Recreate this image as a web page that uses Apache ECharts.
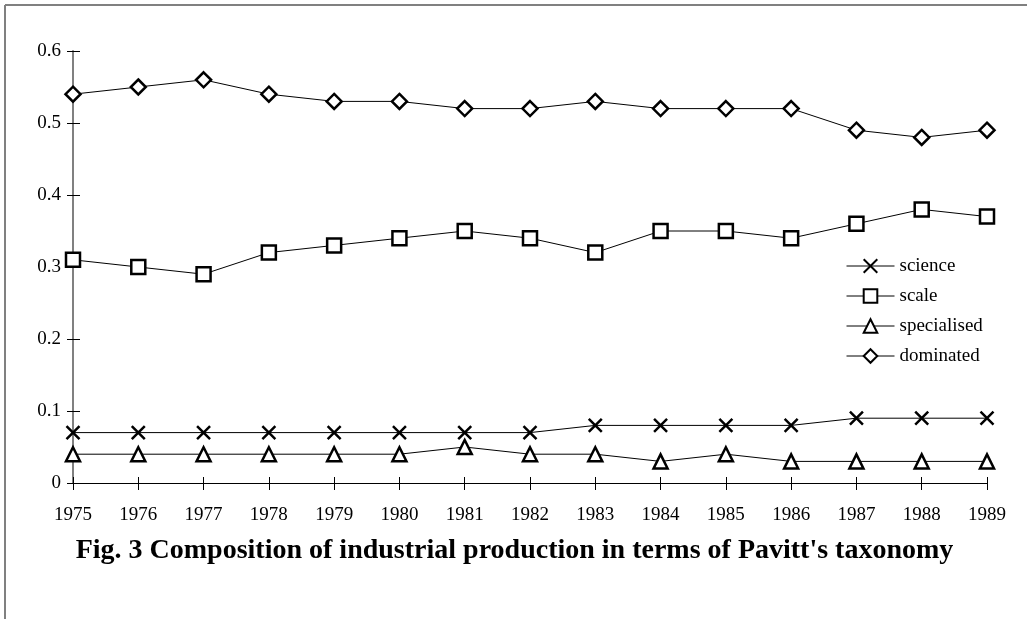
<!DOCTYPE html>
<html>
<head>
<meta charset="utf-8">
<script src="https://cdn.jsdelivr.net/npm/echarts@6/dist/echarts.min.js"></script>
<style>
  html, body { margin: 0; padding: 0; background: #fff; }
  #chart { width: 1029px; height: 619px; }
</style>
</head>
<body>
<div id="chart"></div>
<script>
// years on the x axis
const years = ['1975', '1976', '1977', '1978', '1979', '1980', '1981', '1982',
  '1983', '1984', '1985', '1986', '1987', '1988', '1989']

// shares per Pavitt category
const science = [0.07, 0.07, 0.07, 0.07, 0.07, 0.07, 0.07, 0.07, 0.08, 0.08, 0.08, 0.08, 0.09, 0.09, 0.09]
const scale = [0.31, 0.30, 0.29, 0.32, 0.33, 0.34, 0.35, 0.34, 0.32, 0.35, 0.35, 0.34, 0.36, 0.38, 0.37]
const specialised = [0.04, 0.04, 0.04, 0.04, 0.04, 0.04, 0.05, 0.04, 0.04, 0.03, 0.04, 0.03, 0.03, 0.03, 0.03]
const dominated = [0.54, 0.55, 0.56, 0.54, 0.53, 0.53, 0.52, 0.52, 0.53, 0.52, 0.52, 0.52, 0.49, 0.48, 0.49]

const titleText = "Fig. 3 Composition of industrial production in terms of Pavitt's taxonomy"
const font = 'Liberation Serif'
const crossPath = 'path://M0,0L10,10M10,0L0,10'

function makeSeries(name, data, symbol, size) {
  return {
    name,
    type: 'line',
    data,
    symbol,
    symbolSize: size,
    showAllSymbol: true,
    lineStyle: { color: '#000', width: 1 },
    itemStyle: { color: '#fff', borderColor: '#000', borderWidth: 2.5 },
    emphasis: { disabled: true },
    animation: false,
  }
}

const chart = echarts.init(document.getElementById('chart'))

const option = {
  backgroundColor: '#fff',
  animation: false,
  textStyle: { fontFamily: font, color: '#000' },
  title: {
    text: titleText,
    left: 'center',
    top: 532,
    textStyle: { fontFamily: font, fontSize: 28, fontWeight: 'bold', color: '#000' },
  },
  grid: { left: 73, right: 42, top: 51, bottom: 136 },
  legend: {
    orient: 'vertical',
    left: 841,
    top: 251,
    itemWidth: 48,
    itemHeight: 17,
    itemGap: 10,
    lineStyle: { width: 1, color: '#000' },
    textStyle: { fontFamily: font, fontSize: 19, lineHeight: 20, color: '#000' },
    data: ['science', 'scale', 'specialised', 'dominated'],
  },
  xAxis: [
    {
      type: 'category',
      data: years,
      boundaryGap: false,
      axisLine: { lineStyle: { color: '#000', width: 1 } },
      axisTick: { length: 7, lineStyle: { color: '#000' } },
      axisLabel: { fontFamily: font, fontSize: 19, color: '#000', margin: 23, interval: 0 },
    },
    {
      // inner half of the crossing ticks
      type: 'category',
      data: years,
      boundaryGap: false,
      position: 'bottom',
      axisLine: { show: false },
      axisTick: { inside: true, length: 6, lineStyle: { color: '#000' } },
      axisLabel: { show: false },
    },
  ],
  yAxis: [
    {
      type: 'value',
      min: 0,
      max: 0.6,
      interval: 0.1,
      splitLine: { show: false },
      axisLine: { show: true, lineStyle: { color: '#808080', width: 2 } },
      axisTick: { show: true, length: 6, lineStyle: { color: '#000' } },
      axisLabel: { fontFamily: font, fontSize: 19, color: '#000', margin: 12 },
    },
    {
      type: 'value',
      min: 0,
      max: 0.6,
      interval: 0.1,
      position: 'left',
      splitLine: { show: false },
      axisLine: { show: false },
      axisTick: { show: true, inside: true, length: 7, lineStyle: { color: '#000' } },
      axisLabel: { show: false },
    },
  ],
  graphic: [
    { type: 'line', shape: { x1: 5, y1: 5, x2: 1027, y2: 5 }, style: { stroke: '#808080', lineWidth: 2 } },
    { type: 'line', shape: { x1: 5, y1: 5, x2: 5, y2: 619 }, style: { stroke: '#808080', lineWidth: 2 } },
  ],
  series: [
    makeSeries('science', science, crossPath, 13),
    makeSeries('scale', scale, 'rect', 14),
    makeSeries('specialised', specialised, 'triangle', 14),
    makeSeries('dominated', dominated, 'diamond', 15),
  ],
}

chart.setOption(option)
</script>
</body>
</html>
